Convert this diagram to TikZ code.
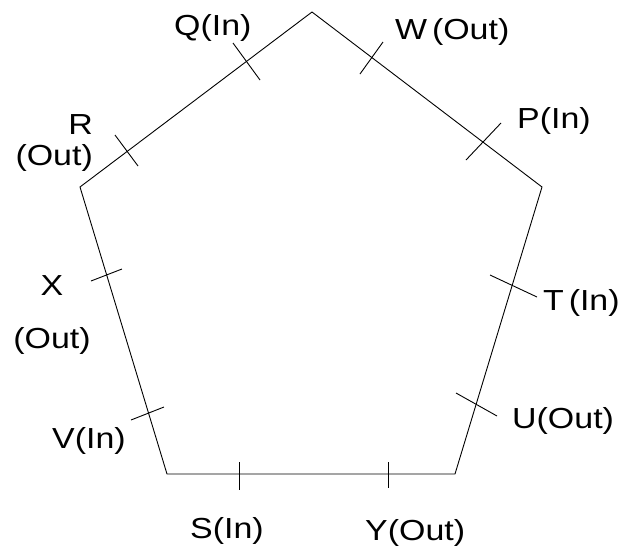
\documentclass[tikz,border=0pt]{standalone}
\usepackage{fontspec}
\setmainfont{Liberation Sans}[FakeStretch=1.17]
\begin{document}
\begin{tikzpicture}[x=1pt,y=-1pt,
  edge/.style={line width=0.9pt, line join=miter},
  tick/.style={line width=0.9pt},
  lbl/.style={inner sep=0pt, font=\fontsize{29}{31}\selectfont}]
\useasboundingbox (0,0) rectangle (622,552);

% pentagon corners
\coordinate (top) at (312,12);
\coordinate (rgt) at (542,187);
\coordinate (br)  at (455,474);
\coordinate (bl)  at (167,474);
\coordinate (lft) at (80,187);
\draw[edge] (top) -- (rgt) -- (br) -- (bl) -- (lft) -- cycle;

% port tick marks across the sides
\coordinate (q1) at (233,43);  \coordinate (q2) at (260,80);
\coordinate (r1) at (115,135); \coordinate (r2) at (138,166);
\coordinate (w1) at (383,42);  \coordinate (w2) at (360,74);
\coordinate (p1) at (501,123); \coordinate (p2) at (466,160);
\coordinate (t1) at (490,275); \coordinate (t2) at (537,297);
\coordinate (u1) at (456,393); \coordinate (u2) at (497,416);
\coordinate (x1) at (91,281);  \coordinate (x2) at (122,269);
\coordinate (v1) at (131,420); \coordinate (v2) at (164,407);
\coordinate (s1) at (239,462); \coordinate (s2) at (239,490);
\coordinate (y1) at (388,462); \coordinate (y2) at (388,488);
\foreach \k in {q,r,w,p,t,u,x,v,s,y} \draw[tick] (\k1) -- (\k2);

% port labels
\node[lbl, anchor=base west] (lq) at (174,35) {Q(In)};
\node[lbl, anchor=base west] (lw) at (395,39) {W\,(Out)};
\node[lbl, anchor=base west] (lp) at (517,128) {P(In)};
\node[lbl, anchor=base west] (lt) at (543,310) {T\,(In)};
\node[lbl, anchor=base west] (lu) at (512,428) {U(Out)};
\node[lbl, anchor=base west] (ly) at (365,540) {Y(Out)};
\node[lbl, anchor=base west] (ls) at (190,538) {S(In)};
\node[lbl, anchor=base west] (lv) at (52,448) {V(In)};
% two-line labels: the base anchor sits on the last line
\node[lbl, anchor=base east, align=right] (lr) at (93,165) {R\\(Out)};
\node[lbl, anchor=base, align=center] (lx) at (52,348) {X\\[22pt](Out)};
\end{tikzpicture}
\end{document}
